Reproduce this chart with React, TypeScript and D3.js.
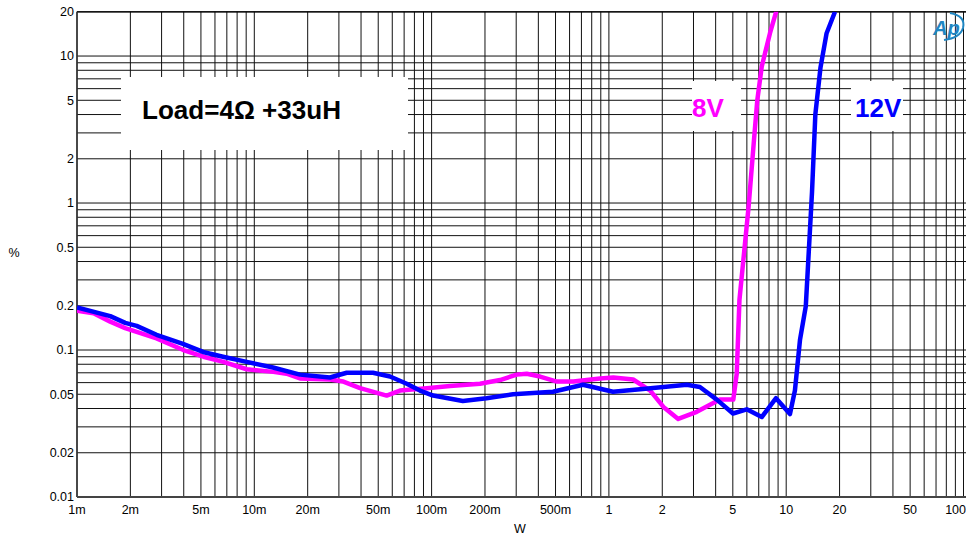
import React from "react";
import * as d3 from "d3";

const xTicks = [0.001, 0.002, 0.005, 0.01, 0.02, 0.05, 0.1, 0.2, 0.5, 1, 2, 5, 10, 20, 50, 100];
const xTickLabels = ["1m", "2m", "5m", "10m", "20m", "50m", "100m", "200m", "500m", "1", "2", "5", "10", "20", "50", "100"];
const yTicks = [0.01, 0.02, 0.05, 0.1, 0.2, 0.5, 1, 2, 5, 10, 20];
const yTickLabels = ["0.01", "0.02", "0.05", "0.1", "0.2", "0.5", "1", "2", "5", "10", "20"];

// 8V series (magenta)
const power8V = [0.001, 0.00124, 0.00154, 0.00187, 0.00281, 0.00398, 0.00516, 0.00669, 0.00906, 0.0128, 0.0152, 0.0181, 0.0267, 0.0318, 0.0395, 0.0558, 0.0663, 0.0938, 0.127, 0.1875, 0.243, 0.302, 0.344, 0.409, 0.508, 0.63, 0.891, 1.06, 1.37, 1.71, 2.03, 2.46, 3.13, 4.23, 5.03, 5.26, 5.45, 6.14, 6.58, 6.87, 7.28, 8.1, 8.84];
const thd8V = [0.185, 0.178, 0.156, 0.141, 0.12, 0.1, 0.09, 0.083, 0.074, 0.071, 0.069, 0.064, 0.063, 0.061, 0.055, 0.049, 0.053, 0.055, 0.057, 0.059, 0.0625, 0.068, 0.069, 0.066, 0.061, 0.061, 0.064, 0.065, 0.063, 0.053, 0.041, 0.034, 0.038, 0.046, 0.046, 0.069, 0.22, 0.95, 2.68, 5.0, 8.5, 14.3, 20.6];

// 12V series (blue)
const power12V = [0.001, 0.00154, 0.00187, 0.00217, 0.00281, 0.00396, 0.00514, 0.00666, 0.00906, 0.01275, 0.0181, 0.0267, 0.0332, 0.0467, 0.0583, 0.0724, 0.086, 0.102, 0.15, 0.204, 0.288, 0.484, 0.714, 1.055, 1.5, 2.75, 3.26, 4.06, 5.01, 5.99, 7.28, 8.76, 10.5, 11.2, 11.96, 12.9, 13.98, 14.6, 15.6, 16.9, 18.85];
const thd12V = [0.195, 0.17, 0.153, 0.146, 0.127, 0.11, 0.097, 0.09, 0.083, 0.076, 0.068, 0.065, 0.07, 0.07, 0.066, 0.059, 0.053, 0.049, 0.045, 0.047, 0.05, 0.052, 0.058, 0.052, 0.054, 0.058, 0.056, 0.046, 0.037, 0.0395, 0.035, 0.047, 0.0367, 0.053, 0.117, 0.199, 1.18, 4.0, 8.3, 14.3, 20];

const FONT = "'Liberation Sans', Arial, Helvetica, sans-serif";

export default function App() {
  const W = 966, H = 538;
  const left = 77, right = 963.5, top = 11.8, bottom = 497;
  const x = d3.scaleLog().domain([0.001, 100]).range([left, right]);
  const y = d3.scaleLog().domain([0.01, 20]).range([bottom, top]);

  const xGrid: number[] = [];
  for (const d of [0.001, 0.01, 0.1, 1, 10]) for (let m = 1; m <= 9; m++) xGrid.push(d * m);
  xGrid.push(100);
  const yGrid: number[] = [];
  for (const d of [0.01, 0.1, 1, 10]) for (let m = 1; m <= 9; m++) if (d * m <= 20) yGrid.push(d * m);

  const line = d3.line<[number, number]>().x(d => x(d[0])).y(d => y(d[1]));
  const d8 = line(power8V.map((p, i) => [p, thd8V[i]] as [number, number])) || "";
  const d12 = line(power12V.map((p, i) => [p, thd12V[i]] as [number, number])) || "";

  return (
    <svg width={W} height={H} style={{ position: "absolute", left: 0, top: 0, background: "#fff" }} fontFamily={FONT}>
      <defs>
        <clipPath id="plot">
          <rect x={left} y={top} width={W - left} height={bottom - top} />
        </clipPath>
      </defs>
      <rect x={0} y={0} width={W} height={H} fill="#fff" />
      {xGrid.map((v, i) => (
        <line key={"xg" + i} x1={x(v)} x2={x(v)} y1={top} y2={bottom} stroke="#111" strokeWidth={1} />
      ))}
      {yGrid.map((v, i) => (
        <line key={"yg" + i} x1={left} x2={W} y1={y(v)} y2={y(v)} stroke="#111" strokeWidth={1} />
      ))}
      {/* annotation boxes */}
      <rect x={121} y={77} width={287} height={73} fill="#fff" />
      <rect x={692} y={81} width={49} height={50} fill="#fff" />
      <rect x={851} y={81} width={52} height={50} fill="#fff" />
      {/* axes frame */}
      <line x1={left} x2={W} y1={top} y2={top} stroke="#000" strokeWidth={1.2} />
      <line x1={left} x2={left} y1={top} y2={bottom} stroke="#333" strokeWidth={1.5} />
      <line x1={left} x2={W} y1={bottom} y2={bottom} stroke="#444" strokeWidth={2} />
      <g clipPath="url(#plot)">
        <path d={d8} fill="none" stroke="#ff00ff" strokeWidth={4.5} strokeLinejoin="round" />
        <path d={d12} fill="none" stroke="#0000ff" strokeWidth={4.5} strokeLinejoin="round" />
      </g>
      <text x={142} y={119} fontSize={25} fontWeight="bold" fill="#000" textLength={199} lengthAdjust="spacingAndGlyphs">Load=4Ω +33uH</text>
      <text x={692} y={117} fontSize={26} fontWeight="bold" fill="#ff00ff">8V</text>
      <text x={855} y={117} fontSize={26} fontWeight="bold" fill="#0000ff">12V</text>
      {yTicks.map((v, i) => (
        <text key={"yt" + i} x={74} y={y(v)} dy="0.35em" textAnchor="end" fontSize={12.5} fill="#000">{yTickLabels[i]}</text>
      ))}
      {xTicks.map((v, i) => (
        <text key={"xt" + i} x={i === xTicks.length - 1 ? 966 : x(v)} y={514} textAnchor={i === xTicks.length - 1 ? "end" : "middle"} fontSize={12.5} fill="#000">{xTickLabels[i]}</text>
      ))}
      <text x={520} y={533} textAnchor="middle" fontSize={12.5} fill="#000">W</text>
      <text x={14} y={257} textAnchor="middle" fontSize={12.5} fill="#000">%</text>
      {/* AP logo */}
      <g>
        <text x={933} y={35} fontSize={20} fontStyle="italic" fontWeight="bold" fill="#1f86c2" fontFamily={FONT}>Ap</text>
        <path d="M950,13 Q966,16 963,28 Q960,38 944,40" fill="none" stroke="#1f86c2" strokeWidth={2} />
      </g>
    </svg>
  );
}
